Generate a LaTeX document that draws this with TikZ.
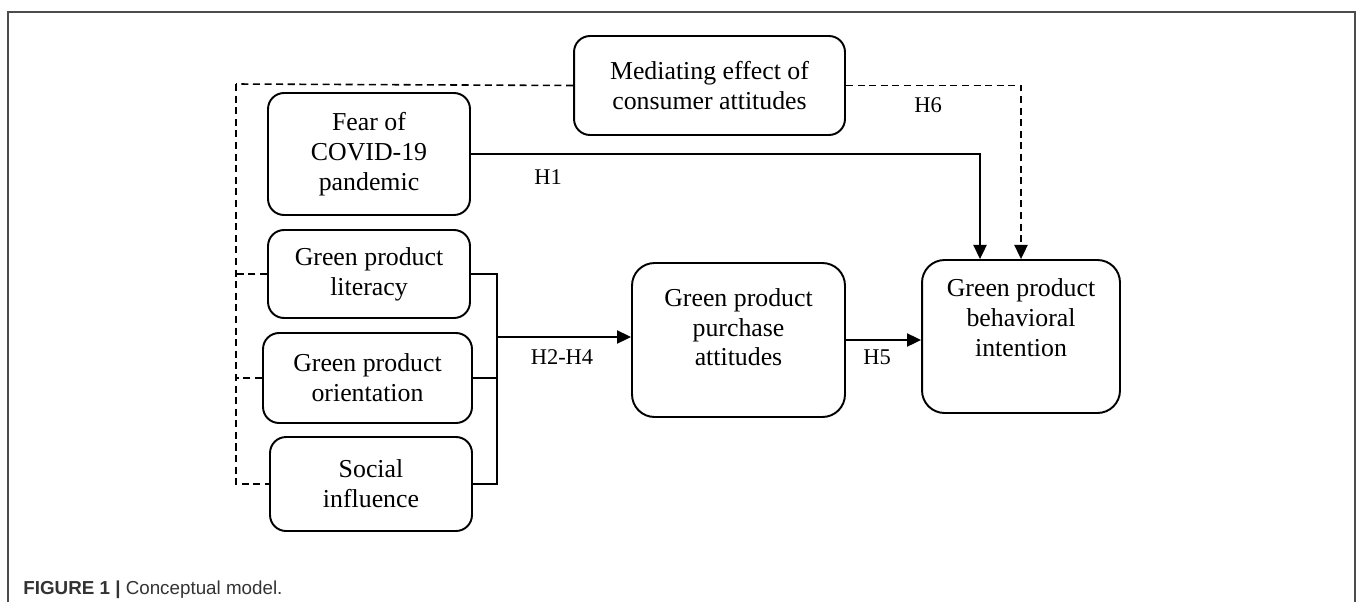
\documentclass[tikz,border=0pt]{standalone}
\usepackage{fontspec}
\setmainfont{Liberation Serif}
\setsansfont{Liberation Sans}
\usetikzlibrary{arrows.meta}
\begin{document}
\begin{tikzpicture}[x=0.02cm, y=-0.02cm]
    \useasboundingbox (0,0) rectangle (1358,602);
    \draw [gray!60!black, line width=0.6pt] (8,602) -- (8,12) -- (1355,12) -- (1355,602);
    \node [anchor=west, inner sep=0pt, text=black!80, font=\sffamily\fontsize{10.7}{12}\selectfont] (caption) at (23,590) {\textbf{FIGURE 1 |} Conceptual model.};
    \begin{scope}[shift={(0,0)}]
        \begin{scope}[every node/.style={draw, line width=1.1pt, rounded corners=0.32cm, align=center, inner sep=0pt, font=\fontsize{14.7}{17}\selectfont}]
            \node [minimum width=5.42cm, minimum height=1.98cm] (mediating) at (709.5,85.5) {Mediating effect of\\consumer attitudes};
            \node [minimum width=4.04cm, minimum height=2.44cm] (fear) at (369,154) {Fear of\\COVID-19\\pandemic};
            \node [minimum width=4.04cm, minimum height=1.76cm] (literacy) at (369,274) {Green product\\literacy};
            \node [minimum width=4.18cm, minimum height=1.80cm] (orientation) at (367.5,378) {Green product\\orientation};
            \node [minimum width=4.04cm, minimum height=1.88cm] (social) at (371,484) {Social\\influence};
            \node [minimum width=4.26cm, minimum height=3.08cm, rounded corners=0.45cm] (purchase) at (738.5,340) {Green product\\purchase\\attitudes\\[-2.3pt]\mbox{}};
            \node [minimum width=3.96cm, minimum height=3.06cm, rounded corners=0.45cm] (behavioral) at (1021,336.5) {Green product\\behavioral\\intention\\[4.5pt]\mbox{}};
        \end{scope}
        \coordinate (mleft) at (236,84);
        \coordinate (join) at (497,337);
        \begin{scope}[every node/.style={inner sep=0pt, font=\fontsize{12.8}{15}\selectfont}]
            \node (h6) at (928,105) {H6};
            \node (h1) at (548,177) {H1};
            \node (h2h4) at (562,357) {H2-H4};
            \node (h5) at (877,357) {H5};
        \end{scope}
        \begin{scope}[every edge/.style={draw, line width=0.9pt},
                      elbow/.style={to path={-| (\tikztotarget)}},
                      drop/.style={to path={|- (\tikztotarget)}},
                      dashed/.style={dash pattern=on 4pt off 2.6pt},
                      >={Triangle[length=8pt, width=7.5pt]}]
            \path [->] (fear.east) edge [elbow] ([xshift=-0.82cm]behavioral.north);
            \path [dashed, ->] (mediating.east) edge [elbow] (behavioral.north);
            \path [dashed] (mediating.west) edge (mleft);
            \path [dashed] (mleft) edge [drop] (social.west);
            \path [dashed] (literacy.west) edge (literacy.west -| mleft);
            \path [dashed] (orientation.west) edge (orientation.west -| mleft);
            \path [-] (literacy.east) edge [elbow] (join);
            \path [-] (orientation.east) edge (orientation.east -| join);
            \path [-] (social.east) edge [elbow] (join);
            \path [->] (join) edge (join -| purchase.west);
            \path [->] (purchase.east) edge (purchase.east -| behavioral.west);
        \end{scope}
    \end{scope}
\end{tikzpicture}
\end{document}
